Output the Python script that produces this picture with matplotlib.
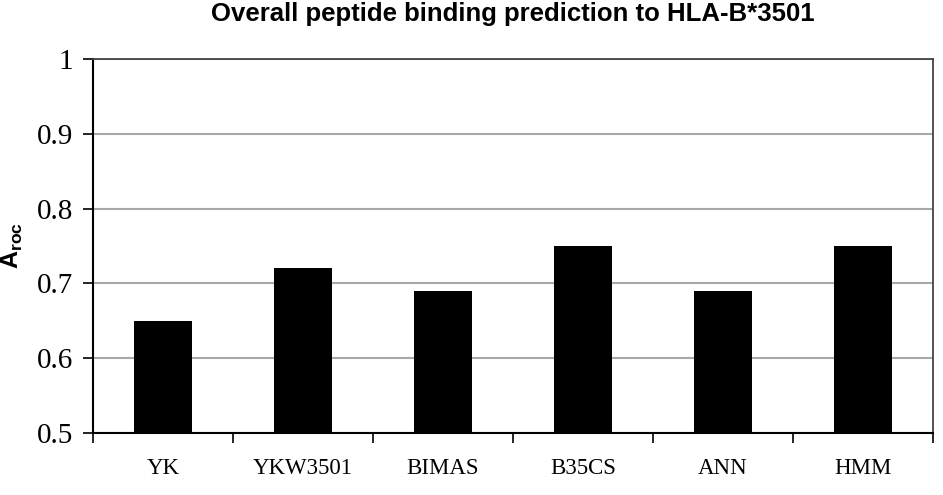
import numpy as np
import matplotlib
matplotlib.use("Agg")
import matplotlib.pyplot as plt

methods = ["YK", "YKW3501", "BIMAS", "B35CS", "ANN", "HMM"]
aroc = [0.65, 0.72, 0.69, 0.75, 0.69, 0.75]
yticks = [0.5, 0.6, 0.7, 0.8, 0.9, 1.0]
ytick_labels = ["0.5", "0.6", "0.7", "0.8", "0.9", "1"]

plt.rcParams['mathtext.fontset'] = 'custom'
plt.rcParams['mathtext.rm'] = 'Liberation Sans'
plt.rcParams['mathtext.bf'] = 'Liberation Sans:bold'

W, H = 943, 495
fig = plt.figure(figsize=(W / 100, H / 100), dpi=100)
ax = fig.add_axes([93 / W, 1 - 433 / H, (933 - 93) / W, (433 - 59) / H])

x = np.arange(len(methods))
ax.bar(x, aroc, width=0.42, bottom=0, color='black', zorder=3)

ax.set_ylim(0.5, 1.0)
ax.set_xlim(-0.5, len(methods) - 0.5)
ax.set_yticks(yticks)
ax.set_yticklabels(ytick_labels, fontfamily='Liberation Serif', fontsize=21)
ax.yaxis.grid(True, color='#a8a8a8', linewidth=1.5, zorder=0)

# ticks at category boundaries, labels at centres
ax.set_xticks(np.arange(len(methods) + 1) - 0.5)
ax.set_xticklabels([])
ax.set_xticks(x, minor=True)
ax.set_xticklabels(methods, minor=True, fontfamily='Liberation Serif', fontsize=16.5)
ax.tick_params(axis='x', which='minor', length=0, pad=18)
ax.tick_params(axis='x', which='major', direction='out', length=7, width=1.2)
ax.tick_params(axis='y', direction='out', length=7, width=1.2, pad=7)

for s in ['left', 'bottom']:
    ax.spines[s].set_linewidth(1.5)
for s in ['top', 'right']:
    ax.spines[s].set_color('#444444')
    ax.spines[s].set_linewidth(1.3)

ax.set_ylabel(r'$\mathbf{A_{roc}}$', fontsize=18, labelpad=9)

fig.text(513 / W, 1 - 21 / H, "Overall peptide binding prediction to HLA-B*3501",
         ha='center', va='baseline', fontfamily='Liberation Sans',
         fontweight='bold', fontsize=18.5)

fig.savefig("out.png", dpi=100)
